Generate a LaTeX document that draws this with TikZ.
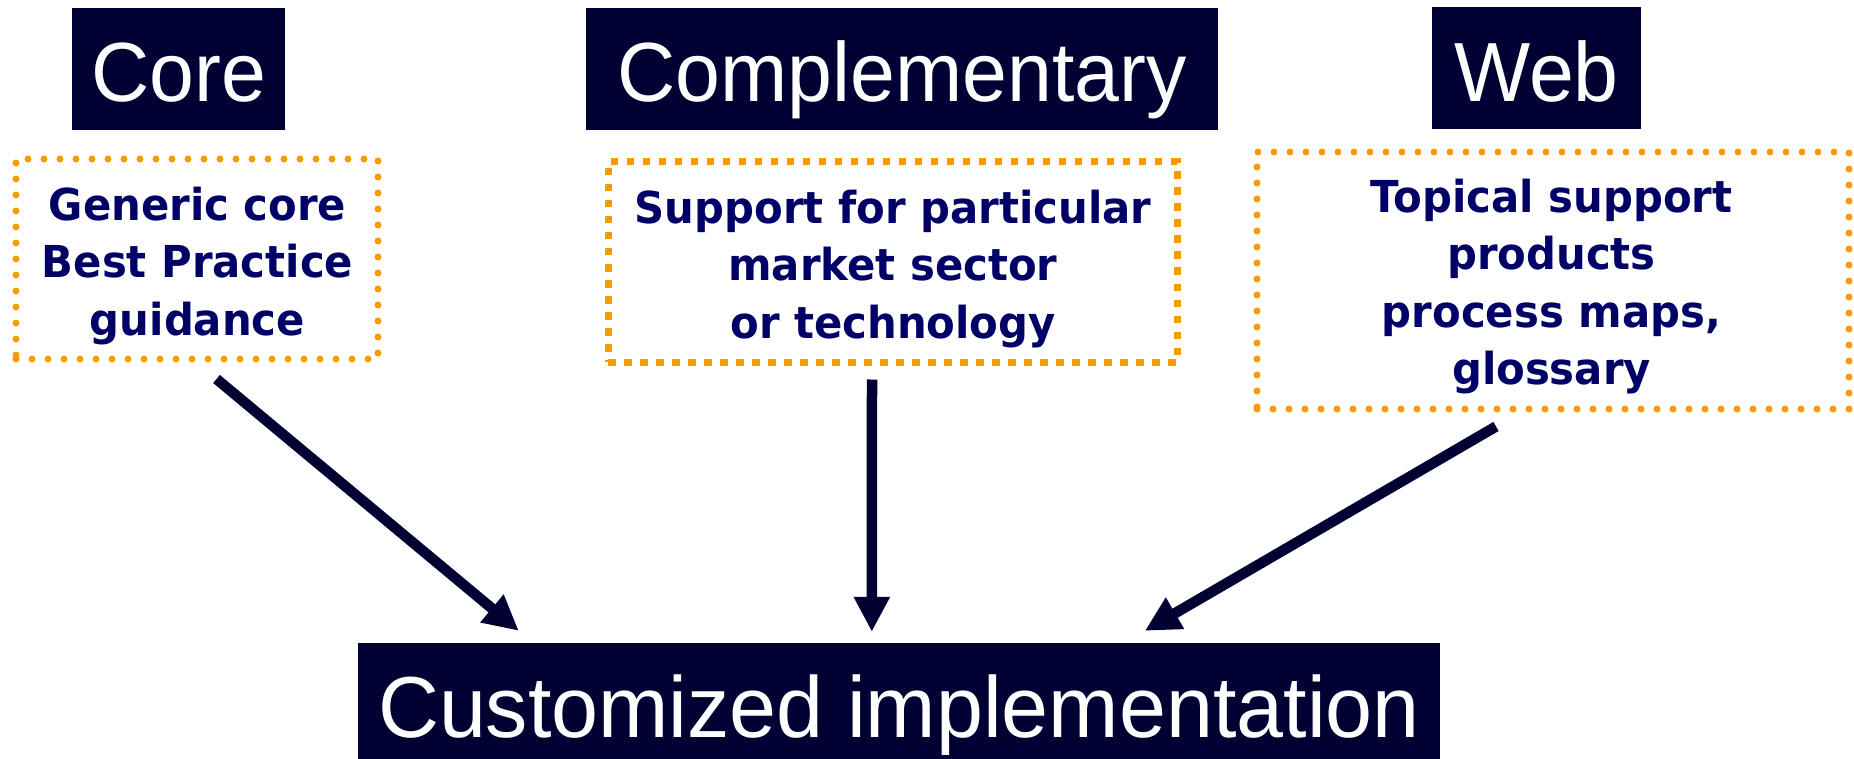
\documentclass[tikz,border=0pt]{standalone}
\usepackage{fontspec}
\usetikzlibrary{arrows.meta,calc}
\newfontfamily\titlefont[FakeStretch=0.96]{Liberation Sans}
\newfontfamily\bottomfont[FakeStretch=0.975]{Liberation Sans}
\newfontfamily\bodyfont[FakeStretch=0.95]{DejaVu Sans}
\definecolor{boxnavy}{HTML}{000033}
\definecolor{textnavy}{HTML}{000066}
\definecolor{dotorange}{HTML}{FF9900}
\tikzset{
  titlebox/.style={rectangle, fill=boxnavy, text=white, inner sep=0pt,
    font=\titlefont\fontsize{84}{84}\selectfont, text depth=0pt},
  roundframe/.style={rectangle, draw=dotorange, line width=7pt,
    dash pattern=on 0pt off 16pt, line cap=round, inner sep=0pt},
  squareframe/.style={rectangle, draw=dotorange, line width=7pt,
    dash pattern=on 7.5pt off 8.5pt, inner sep=0pt},
  bodytext/.style={text=textnavy, align=center, inner sep=0pt, anchor=north,
    font=\bodyfont\bfseries\fontsize{44}{57.5}\selectfont},
  flow/.style={draw=boxnavy, line width=10.5pt,
    -{Triangle[length=35pt,width=34pt]}}
}
\begin{document}
\begin{tikzpicture}[x=1pt,y=-1pt]
\useasboundingbox (0,0) rectangle (1854,759);
% title boxes
\node[titlebox, minimum width=213pt, minimum height=122pt, text height=66pt] (coretitle) at (178.5,69) {Core};
\node[titlebox, minimum width=632pt, minimum height=122pt, text height=66pt] (compltitle) at (902,69) {Complementary};
\node[titlebox, minimum width=209pt, minimum height=122pt, text height=68pt] (webtitle) at (1536.5,68) {Web};
% dotted frames
\node[roundframe, minimum width=362pt, minimum height=200pt] (core) at (197,259) {};
\node[squareframe, minimum width=569pt, minimum height=200pt] (compl) at (892.5,262) {};
\node[roundframe, minimum width=592pt, minimum height=257pt] (web) at (1553,280.5) {};
% body texts
\node[bodytext] (coretxt) at (197.5,186.6) {Generic core\\Best Practice\\guidance};
\node[bodytext] (compltxt) at (893,189.6) {Support for particular\\market sector\\or technology};
\node[bodytext] (webtxt) at (1551.5,178.6) {Topical support\\products\\process maps,\\glossary};
% bottom box
\node[titlebox, font=\bottomfont\fontsize{86.6}{86.6}\selectfont, minimum width=1082pt, minimum height=130pt, text height=58pt] (impl) at (899,708) {Customized implementation};
% arrow ends
\coordinate (s1) at ($(core.south)+(19.5,16.5)$);
\coordinate (s2) at ($(compl.south)+(-20.5,14)$);
\coordinate (s3) at ($(web.south)+(-57,14)$);
\coordinate (e1) at ($(impl.north west)+(161,-12)$);
\coordinate (e2) at ($(impl.north west)+(514,-11)$);
\coordinate (e3) at ($(impl.north west)+(787,-12)$);
\draw[flow] (s1) -- (e1);
\draw[flow] (s2) -- (e2);
\draw[flow] (s3) -- (e3);
\end{tikzpicture}
\end{document}
